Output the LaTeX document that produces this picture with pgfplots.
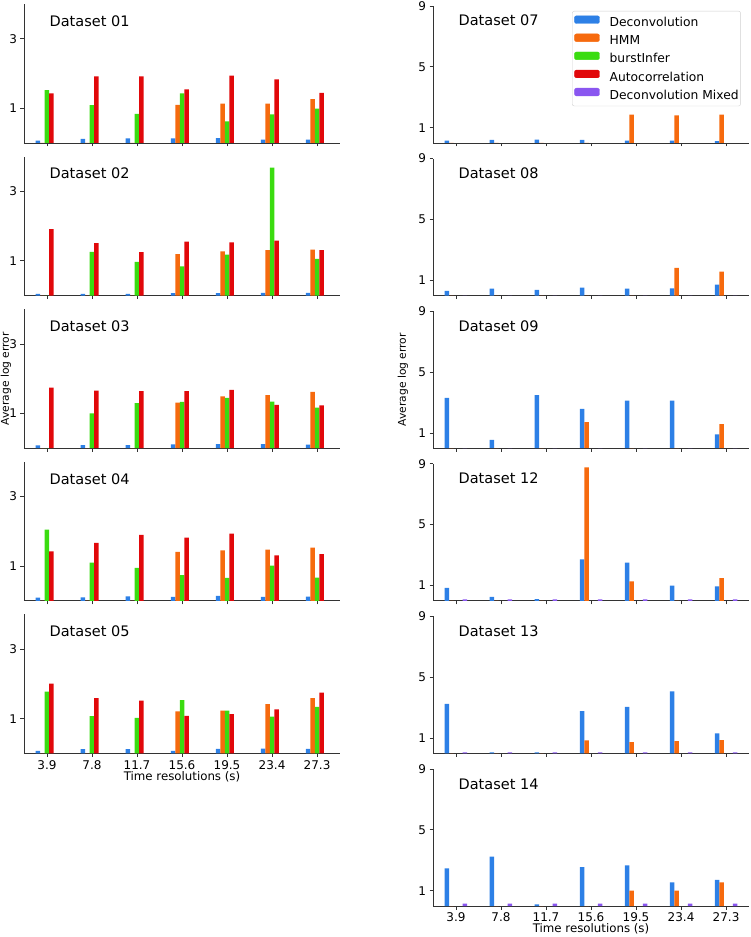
\documentclass[border=0pt]{standalone}
\usepackage{pgfplots}
\pgfplotsset{compat=1.18}
\usepackage{pgfplotstable}
\usepackage{fontspec}
\setmainfont{DejaVu Sans}
\definecolor{cDec}{RGB}{45,128,230}
\definecolor{cHMM}{RGB}{246,106,14}
\definecolor{cBur}{RGB}{58,220,16}
\definecolor{cAut}{RGB}{225,8,10}
\definecolor{cMix}{RGB}{138,86,240}

% Left column: Deconvolution, HMM, burstInfer, Autocorrelation
\pgfplotstableread{
dec hmm bur aut
0.07 0 1.52 1.43
0.12 0 1.09 1.92
0.13 0 0.84 1.92
0.13 1.10 1.43 1.54
0.14 1.13 0.62 1.94
0.10 1.13 0.82 1.83
0.10 1.26 0.99 1.44
}\dA
\pgfplotstableread{
dec hmm bur aut
0.05 0 0 1.91
0.05 0 1.26 1.51
0.05 0 0.97 1.25
0.07 1.19 0.84 1.55
0.07 1.27 1.18 1.53
0.08 1.31 3.68 1.58
0.08 1.32 1.06 1.31
}\dB
\pgfplotstableread{
dec hmm bur aut
0.08 0 0 1.74
0.09 0 1.00 1.66
0.09 0 1.30 1.64
0.11 1.31 1.33 1.64
0.12 1.49 1.45 1.68
0.12 1.53 1.34 1.25
0.10 1.62 1.17 1.23
}\dC
\pgfplotstableread{
dec hmm bur aut
0.09 0 2.05 1.42
0.10 0 1.10 1.67
0.13 0 0.95 1.90
0.11 1.41 0.74 1.82
0.14 1.45 0.66 1.93
0.11 1.47 1.01 1.31
0.12 1.53 0.67 1.34
}\dD
\pgfplotstableread{
dec hmm bur aut
0.07 0 1.78 2.01
0.12 0 1.07 1.59
0.12 0 1.02 1.52
0.07 1.21 1.53 1.08
0.13 1.23 1.23 1.13
0.14 1.42 1.06 1.27
0.13 1.59 1.34 1.75
}\dE
% Right column: Deconvolution, HMM, Deconvolution Mixed
\pgfplotstableread{
dec hmm mix
0.15 0 0
0.20 0 0
0.22 0 0
0.20 0 0
0.15 1.86 0
0.15 1.82 0
0.13 1.86 0
}\dG
\pgfplotstableread{
dec hmm mix
0.31 0 0
0.46 0 0
0.37 0 0
0.53 0 0
0.46 0 0
0.48 1.82 0
0.72 1.58 0
}\dH
\pgfplotstableread{
dec hmm mix
3.31 0 0
0.55 0 0
3.48 0 0
2.58 1.71 0
3.13 0 0
3.13 0 0
0.90 1.58 0
}\dI
\pgfplotstableread{
dec hmm mix
0.85 0 0.09
0.26 0 0.09
0.11 0 0.09
2.72 8.76 0.09
2.50 1.27 0.09
0.99 0 0.09
0.94 1.49 0.09
}\dL
\pgfplotstableread{
dec hmm mix
3.25 0 0.06
0.07 0 0.06
0.07 0 0.06
2.78 0.85 0.06
3.06 0.74 0.06
4.07 0.81 0.06
1.31 0.87 0.06
}\dM
\pgfplotstableread{
dec hmm mix
2.47 0 0.15
3.24 0 0.15
0.11 0 0.15
2.56 0 0.15
2.67 1.01 0.15
1.55 1.01 0.15
1.71 1.55 0.15
}\dN

\pgfplotsset{
  panel/.style={
    scale only axis, width=316pt,
    xmin=-0.51, xmax=6.51, ymin=0,
    axis x line*=bottom, axis y line*=left,
    ybar, bar width=0.1,
    xtick={0,...,6}, xticklabels={},
    tick align=outside, major tick length=3.5pt,
    every tick/.style={black!80, line width=0.8pt},
    axis line style={black!80, line width=0.9pt},
    ticklabel style={font=\fontsize{12}{14}\selectfont},
    /pgf/number format/assume math mode=true,
    clip=false,
  },
  lpanel/.style={panel, height=139pt, ymax=4, ytick={1,3}},
  rpanel/.style={panel, height=137pt, ymax=9, ytick={1,5,9}},
  bottomlabels/.style={xticklabels={3.9,7.8,11.7,15.6,19.5,23.4,27.3}},
}
\newcommand{\onebar}[4]{\addplot[fill=#1, draw=none, bar shift=0pt] table[x expr=\coordindex#2, y=#3] {#4};}
\newcommand{\leftbars}[1]{%
  \onebar{cDec}{-0.2}{dec}{#1}
  \onebar{cHMM}{-0.1}{hmm}{#1}
  \onebar{cBur}{+0}{bur}{#1}
  \onebar{cAut}{+0.1}{aut}{#1}}
\newcommand{\rightbars}[1]{%
  \onebar{cDec}{-0.2}{dec}{#1}
  \onebar{cHMM}{-0.1}{hmm}{#1}
  \onebar{cMix}{+0.2}{mix}{#1}}
\newcommand{\ttl}[2]{\node[anchor=base west, font=\fontsize{14.5}{16}\selectfont] at (rel axis cs:0.07,#2) {#1};}

\begin{document}
\begin{tikzpicture}
\path[use as bounding box] (0,0) rectangle (750pt,937pt);
% ---------- left column ----------
\begin{axis}[lpanel, at={(24pt,794pt)}, anchor=south west]
\leftbars{\dA}
\ttl{Dataset 01}{0.84}
\end{axis}
\begin{axis}[lpanel, at={(24pt,641.4pt)}, anchor=south west]
\leftbars{\dB}
\ttl{Dataset 02}{0.84}
\end{axis}
\begin{axis}[lpanel, at={(24pt,488.8pt)}, anchor=south west]
\leftbars{\dC}
\ttl{Dataset 03}{0.84}
\node[rotate=90, font=\fontsize{10.7}{12}\selectfont] at (axis description cs:-0.057,0.5) {Average log error};
\end{axis}
\begin{axis}[lpanel, at={(24pt,336.2pt)}, anchor=south west]
\leftbars{\dD}
\ttl{Dataset 04}{0.84}
\end{axis}
\begin{axis}[lpanel, bottomlabels, at={(24pt,183.6pt)}, anchor=south west]
\leftbars{\dE}
\ttl{Dataset 05}{0.84}
\node[font=\fontsize{11.8}{13}\selectfont] at (axis description cs:0.5,-0.168) {Time resolutions (s)};
\end{axis}
% ---------- right column ----------
\begin{axis}[rpanel, at={(433pt,794pt)}, anchor=south west,
  legend style={at={(rel axis cs:0.974,0.9635)}, anchor=north east,
    draw=black!18, rounded corners=2pt, fill=white,
    font=\fontsize{12.3}{14}\selectfont,
    inner xsep=2pt, inner ysep=4.4pt, row sep=4.5pt, column sep=10pt,
    nodes={inner sep=0pt, text height=9.2pt, text depth=2.4pt}},
  legend cell align=left]
\addplot[fill=cDec, draw=none, bar shift=0pt, forget plot] table[x expr=\coordindex-0.2, y=dec] {\dG};
\addplot[fill=cHMM, draw=none, bar shift=0pt, forget plot] table[x expr=\coordindex-0.1, y=hmm] {\dG};
\addlegendimage{legend image code/.code={\fill[cDec] (0pt,-0.1pt) rectangle (25pt,7.6pt);}}
\addlegendimage{legend image code/.code={\fill[cHMM] (0pt,-0.1pt) rectangle (25pt,7.6pt);}}
\addlegendimage{legend image code/.code={\fill[cBur] (0pt,-0.1pt) rectangle (25pt,7.6pt);}}
\addlegendimage{legend image code/.code={\fill[cAut] (0pt,-0.1pt) rectangle (25pt,7.6pt);}}
\addlegendimage{legend image code/.code={\fill[cMix] (0pt,-0.1pt) rectangle (25pt,7.6pt);}}
\legend{Deconvolution, HMM, burstInfer, Autocorrelation, Deconvolution Mixed}
\ttl{Dataset 07}{0.854}
\end{axis}
\begin{axis}[rpanel, at={(433pt,641.4pt)}, anchor=south west]
\rightbars{\dH}
\ttl{Dataset 08}{0.854}
\end{axis}
\begin{axis}[rpanel, at={(433pt,488.8pt)}, anchor=south west]
\rightbars{\dI}
\ttl{Dataset 09}{0.854}
\node[rotate=90, font=\fontsize{10.7}{12}\selectfont] at (axis description cs:-0.095,0.5) {Average log error};
\end{axis}
\begin{axis}[rpanel, at={(433pt,336.2pt)}, anchor=south west]
\rightbars{\dL}
\ttl{Dataset 12}{0.854}
\end{axis}
\begin{axis}[rpanel, at={(433pt,183.6pt)}, anchor=south west]
\rightbars{\dM}
\ttl{Dataset 13}{0.854}
\end{axis}
\begin{axis}[rpanel, bottomlabels, at={(433pt,31pt)}, anchor=south west]
\rightbars{\dN}
\ttl{Dataset 14}{0.854}
\node[font=\fontsize{11.8}{13}\selectfont] at (axis description cs:0.5,-0.168) {Time resolutions (s)};
\end{axis}
\end{tikzpicture}
\end{document}
